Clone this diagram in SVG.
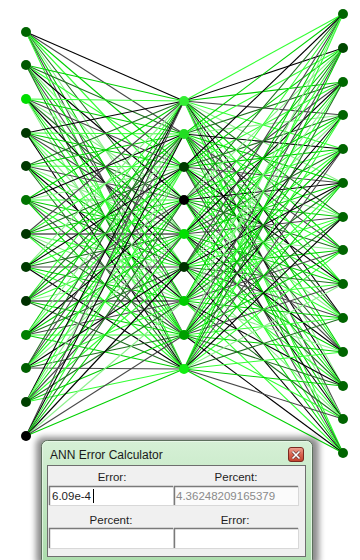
<svg xmlns="http://www.w3.org/2000/svg" width="360" height="560" viewBox="0 0 360 560">
<defs>
<style>
.k{stroke:#000000}.g{stroke:#484848}.d{stroke:#1f6f1f}.m{stroke:#00d000}.l{stroke:#33ff33}.p{stroke:#8cf08c}
#conn path{fill:none;stroke-width:1.1}
.lbl{font-family:"Liberation Sans",Arial,sans-serif;font-size:11.5px;fill:#1e1e1e}
</style>
<linearGradient id="frame" x1="0" y1="0" x2="0" y2="1"><stop offset="0" stop-color="#d6f0d6"/><stop offset="1" stop-color="#abdcab"/></linearGradient>
<linearGradient id="close" x1="0" y1="0" x2="0" y2="1"><stop offset="0" stop-color="#eea393"/><stop offset="0.5" stop-color="#d9634f"/><stop offset="1" stop-color="#c0402c"/></linearGradient>
<filter id="sh" x="-10%" y="-20%" width="120%" height="140%"><feGaussianBlur stdDeviation="3"/></filter>
</defs>
<rect width="360" height="560" fill="#ffffff"/>
<g id="conn">
<path class="k" d="M26 32 184 101"/><path class="g" d="M26 32 184 134"/><path class="m" d="M26 32 184 167"/><path class="l" d="M26 32 184 200"/><path class="d" d="M26 32 184 234"/><path class="p" d="M26 32 184 267"/><path class="m" d="M26 32 184 301"/><path class="g" d="M26 32 184 335"/><path class="l" d="M26 32 184 369"/>
<path class="m" d="M26 65 184 101"/><path class="d" d="M26 65 184 134"/><path class="l" d="M26 65 184 167"/><path class="k" d="M26 65 184 200"/><path class="p" d="M26 65 184 234"/><path class="m" d="M26 65 184 267"/><path class="g" d="M26 65 184 301"/><path class="l" d="M26 65 184 335"/><path class="d" d="M26 65 184 369"/>
<path class="l" d="M26 99 184 101"/><path class="m" d="M26 99 184 134"/><path class="g" d="M26 99 184 167"/><path class="p" d="M26 99 184 200"/><path class="d" d="M26 99 184 234"/><path class="k" d="M26 99 184 267"/><path class="l" d="M26 99 184 301"/><path class="m" d="M26 99 184 335"/><path class="p" d="M26 99 184 369"/>
<path class="k" d="M26 133 184 101"/><path class="l" d="M26 133 184 134"/><path class="m" d="M26 133 184 167"/><path class="d" d="M26 133 184 200"/><path class="g" d="M26 133 184 234"/><path class="l" d="M26 133 184 267"/><path class="p" d="M26 133 184 301"/><path class="m" d="M26 133 184 335"/><path class="k" d="M26 133 184 369"/>
<path class="d" d="M26 166 184 101"/><path class="m" d="M26 166 184 134"/><path class="l" d="M26 166 184 167"/><path class="g" d="M26 166 184 200"/><path class="p" d="M26 166 184 234"/><path class="m" d="M26 166 184 267"/><path class="k" d="M26 166 184 301"/><path class="l" d="M26 166 184 335"/><path class="d" d="M26 166 184 369"/>
<path class="m" d="M26 200 184 101"/><path class="k" d="M26 200 184 134"/><path class="p" d="M26 200 184 167"/><path class="l" d="M26 200 184 200"/><path class="m" d="M26 200 184 234"/><path class="d" d="M26 200 184 267"/><path class="l" d="M26 200 184 301"/><path class="g" d="M26 200 184 335"/><path class="m" d="M26 200 184 369"/>
<path class="g" d="M26 234 184 101"/><path class="l" d="M26 234 184 134"/><path class="d" d="M26 234 184 167"/><path class="m" d="M26 234 184 200"/><path class="k" d="M26 234 184 234"/><path class="l" d="M26 234 184 267"/><path class="p" d="M26 234 184 301"/><path class="d" d="M26 234 184 335"/><path class="l" d="M26 234 184 369"/>
<path class="p" d="M26 267 184 101"/><path class="m" d="M26 267 184 134"/><path class="k" d="M26 267 184 167"/><path class="l" d="M26 267 184 200"/><path class="d" d="M26 267 184 234"/><path class="g" d="M26 267 184 267"/><path class="m" d="M26 267 184 301"/><path class="l" d="M26 267 184 335"/><path class="k" d="M26 267 184 369"/>
<path class="l" d="M26 301 184 101"/><path class="d" d="M26 301 184 134"/><path class="m" d="M26 301 184 167"/><path class="g" d="M26 301 184 200"/><path class="l" d="M26 301 184 234"/><path class="p" d="M26 301 184 267"/><path class="k" d="M26 301 184 301"/><path class="m" d="M26 301 184 335"/><path class="d" d="M26 301 184 369"/>
<path class="m" d="M26 335 184 101"/><path class="p" d="M26 335 184 134"/><path class="l" d="M26 335 184 167"/><path class="k" d="M26 335 184 200"/><path class="m" d="M26 335 184 234"/><path class="d" d="M26 335 184 267"/><path class="g" d="M26 335 184 301"/><path class="l" d="M26 335 184 335"/><path class="m" d="M26 335 184 369"/>
<path class="d" d="M26 368 184 101"/><path class="g" d="M26 368 184 134"/><path class="m" d="M26 368 184 167"/><path class="l" d="M26 368 184 200"/><path class="p" d="M26 368 184 234"/><path class="k" d="M26 368 184 267"/><path class="l" d="M26 368 184 301"/><path class="d" d="M26 368 184 335"/><path class="g" d="M26 368 184 369"/>
<path class="k" d="M26 402 184 101"/><path class="l" d="M26 402 184 134"/><path class="p" d="M26 402 184 167"/><path class="m" d="M26 402 184 200"/><path class="g" d="M26 402 184 234"/><path class="l" d="M26 402 184 267"/><path class="d" d="M26 402 184 301"/><path class="m" d="M26 402 184 335"/><path class="l" d="M26 402 184 369"/>
<path class="g" d="M26 436 184 101"/><path class="k" d="M26 436 184 134"/><path class="l" d="M26 436 184 167"/><path class="d" d="M26 436 184 200"/><path class="m" d="M26 436 184 234"/><path class="k" d="M26 436 184 267"/><path class="p" d="M26 436 184 301"/><path class="g" d="M26 436 184 335"/><path class="m" d="M26 436 184 369"/>
<path class="l" d="M184 101 343 14"/><path class="k" d="M184 101 343 48"/><path class="m" d="M184 101 343 82"/><path class="g" d="M184 101 343 115"/><path class="l" d="M184 101 343 149"/><path class="p" d="M184 101 343 183"/><path class="d" d="M184 101 343 217"/><path class="m" d="M184 101 343 250"/><path class="l" d="M184 101 343 284"/><path class="k" d="M184 101 343 318"/><path class="m" d="M184 101 343 352"/><path class="p" d="M184 101 343 386"/><path class="g" d="M184 101 343 419"/><path class="l" d="M184 101 343 453"/>
<path class="m" d="M184 134 343 14"/><path class="l" d="M184 134 343 48"/><path class="d" d="M184 134 343 82"/><path class="p" d="M184 134 343 115"/><path class="k" d="M184 134 343 149"/><path class="m" d="M184 134 343 183"/><path class="l" d="M184 134 343 217"/><path class="g" d="M184 134 343 250"/><path class="m" d="M184 134 343 284"/><path class="d" d="M184 134 343 318"/><path class="l" d="M184 134 343 352"/><path class="k" d="M184 134 343 386"/><path class="p" d="M184 134 343 419"/><path class="m" d="M184 134 343 453"/>
<path class="k" d="M184 167 343 14"/><path class="m" d="M184 167 343 48"/><path class="l" d="M184 167 343 82"/><path class="d" d="M184 167 343 115"/><path class="m" d="M184 167 343 149"/><path class="g" d="M184 167 343 183"/><path class="p" d="M184 167 343 217"/><path class="l" d="M184 167 343 250"/><path class="k" d="M184 167 343 284"/><path class="m" d="M184 167 343 318"/><path class="d" d="M184 167 343 352"/><path class="l" d="M184 167 343 386"/><path class="m" d="M184 167 343 419"/><path class="g" d="M184 167 343 453"/>
<path class="d" d="M184 200 343 14"/><path class="p" d="M184 200 343 48"/><path class="g" d="M184 200 343 82"/><path class="m" d="M184 200 343 115"/><path class="l" d="M184 200 343 149"/><path class="k" d="M184 200 343 183"/><path class="m" d="M184 200 343 217"/><path class="d" d="M184 200 343 250"/><path class="l" d="M184 200 343 284"/><path class="p" d="M184 200 343 318"/><path class="g" d="M184 200 343 352"/><path class="m" d="M184 200 343 386"/><path class="k" d="M184 200 343 419"/><path class="l" d="M184 200 343 453"/>
<path class="l" d="M184 234 343 14"/><path class="m" d="M184 234 343 48"/><path class="k" d="M184 234 343 82"/><path class="l" d="M184 234 343 115"/><path class="d" d="M184 234 343 149"/><path class="m" d="M184 234 343 183"/><path class="g" d="M184 234 343 217"/><path class="p" d="M184 234 343 250"/><path class="m" d="M184 234 343 284"/><path class="l" d="M184 234 343 318"/><path class="k" d="M184 234 343 352"/><path class="d" d="M184 234 343 386"/><path class="l" d="M184 234 343 419"/><path class="m" d="M184 234 343 453"/>
<path class="g" d="M184 267 343 14"/><path class="d" d="M184 267 343 48"/><path class="m" d="M184 267 343 82"/><path class="p" d="M184 267 343 115"/><path class="l" d="M184 267 343 149"/><path class="k" d="M184 267 343 183"/><path class="l" d="M184 267 343 217"/><path class="m" d="M184 267 343 250"/><path class="d" d="M184 267 343 284"/><path class="g" d="M184 267 343 318"/><path class="m" d="M184 267 343 352"/><path class="l" d="M184 267 343 386"/><path class="p" d="M184 267 343 419"/><path class="k" d="M184 267 343 453"/>
<path class="m" d="M184 301 343 14"/><path class="l" d="M184 301 343 48"/><path class="p" d="M184 301 343 82"/><path class="k" d="M184 301 343 115"/><path class="m" d="M184 301 343 149"/><path class="d" d="M184 301 343 183"/><path class="l" d="M184 301 343 217"/><path class="g" d="M184 301 343 250"/><path class="l" d="M184 301 343 284"/><path class="m" d="M184 301 343 318"/><path class="p" d="M184 301 343 352"/><path class="k" d="M184 301 343 386"/><path class="d" d="M184 301 343 419"/><path class="l" d="M184 301 343 453"/>
<path class="p" d="M184 335 343 14"/><path class="g" d="M184 335 343 48"/><path class="l" d="M184 335 343 82"/><path class="m" d="M184 335 343 115"/><path class="k" d="M184 335 343 149"/><path class="l" d="M184 335 343 183"/><path class="d" d="M184 335 343 217"/><path class="m" d="M184 335 343 250"/><path class="g" d="M184 335 343 284"/><path class="l" d="M184 335 343 318"/><path class="m" d="M184 335 343 352"/><path class="d" d="M184 335 343 386"/><path class="l" d="M184 335 343 419"/><path class="k" d="M184 335 343 453"/>
<path class="l" d="M184 369 343 14"/><path class="m" d="M184 369 343 48"/><path class="d" d="M184 369 343 82"/><path class="l" d="M184 369 343 115"/><path class="g" d="M184 369 343 149"/><path class="m" d="M184 369 343 183"/><path class="k" d="M184 369 343 217"/><path class="l" d="M184 369 343 250"/><path class="p" d="M184 369 343 284"/><path class="d" d="M184 369 343 318"/><path class="l" d="M184 369 343 352"/><path class="m" d="M184 369 343 386"/><path class="g" d="M184 369 343 419"/><path class="m" d="M184 369 343 453"/>
</g>
<g id="in1"><circle cx="26" cy="32" r="5" fill="#006400"/></g>
<g id="in2"><circle cx="26" cy="65" r="5" fill="#005800"/></g>
<g id="in3"><circle cx="26" cy="99" r="5" fill="#00dd00"/></g>
<g id="in4"><circle cx="26" cy="133" r="5" fill="#003800"/></g>
<g id="in5"><circle cx="26" cy="166" r="5" fill="#003800"/></g>
<g id="in6"><circle cx="26" cy="200" r="5" fill="#007400"/></g>
<g id="in7"><circle cx="26" cy="234" r="5" fill="#003600"/></g>
<g id="in8"><circle cx="26" cy="267" r="5" fill="#003a00"/></g>
<g id="in9"><circle cx="26" cy="301" r="5" fill="#003000"/></g>
<g id="in10"><circle cx="26" cy="335" r="5" fill="#008000"/></g>
<g id="in11"><circle cx="26" cy="368" r="5" fill="#006000"/></g>
<g id="in12"><circle cx="26" cy="402" r="5" fill="#004000"/></g>
<g id="in13"><circle cx="26" cy="436" r="5" fill="#000000"/></g>
<g id="h1"><circle cx="184" cy="101" r="5" fill="#33ee33"/></g>
<g id="h2"><circle cx="184" cy="134" r="5" fill="#22dd22"/></g>
<g id="h3"><circle cx="184" cy="167" r="5" fill="#003a00"/></g>
<g id="h4"><circle cx="184" cy="200" r="5" fill="#000000"/></g>
<g id="h5"><circle cx="184" cy="234" r="5" fill="#00e000"/></g>
<g id="h6"><circle cx="184" cy="267" r="5" fill="#003300"/></g>
<g id="h7"><circle cx="184" cy="301" r="5" fill="#00cc00"/></g>
<g id="h8"><circle cx="184" cy="335" r="5" fill="#00a000"/></g>
<g id="h9"><circle cx="184" cy="369" r="5" fill="#11ee11"/></g>
<g id="out1"><circle cx="343" cy="14" r="5" fill="#006400"/></g>
<g id="out2"><circle cx="343" cy="48" r="5" fill="#004800"/></g>
<g id="out3"><circle cx="343" cy="82" r="5" fill="#006800"/></g>
<g id="out4"><circle cx="343" cy="115" r="5" fill="#006400"/></g>
<g id="out5"><circle cx="343" cy="149" r="5" fill="#006400"/></g>
<g id="out6"><circle cx="343" cy="183" r="5" fill="#006400"/></g>
<g id="out7"><circle cx="343" cy="217" r="5" fill="#006400"/></g>
<g id="out8"><circle cx="343" cy="250" r="5" fill="#006400"/></g>
<g id="out9"><circle cx="343" cy="284" r="5" fill="#006400"/></g>
<g id="out10"><circle cx="343" cy="318" r="5" fill="#006400"/></g>
<g id="out11"><circle cx="343" cy="352" r="5" fill="#006400"/></g>
<g id="out12"><circle cx="343" cy="386" r="5" fill="#006400"/></g>
<g id="out13"><circle cx="343" cy="419" r="5" fill="#006400"/></g>
<g id="out14"><circle cx="343" cy="453" r="5" fill="#006400"/></g>
<g id="dialog">
<rect x="36" y="437" width="283" height="130" rx="7" fill="#000" opacity="0.45" filter="url(#sh)"/>
<rect x="41.5" y="440.5" width="271" height="125" rx="6" fill="url(#frame)" stroke="#5d6f5d"/>
<rect x="42.5" y="441.5" width="269" height="123" rx="5" fill="none" stroke="#eaf8ea" stroke-opacity="0.8"/>
<text x="50" y="459" font-family="Liberation Sans, Arial, sans-serif" font-size="12" fill="#1a1a1a">ANN Error Calculator</text>
<g id="closebtn">
<rect x="288.5" y="447.5" width="15" height="14" rx="2.5" fill="url(#close)" stroke="#7a2a20"/>
<path d="M292.5 451.5 299.5 458.5M299.5 451.5 292.5 458.5" stroke="#6a3a35" stroke-width="3"/>
<path d="M292.5 451.5 299.5 458.5M299.5 451.5 292.5 458.5" stroke="#ffffff" stroke-width="1.6"/>
</g>
<rect x="47.5" y="465.5" width="258" height="91" fill="#f0f0f0" stroke="#6e6e6e"/>
<text class="lbl" x="112" y="481" text-anchor="middle">Error:</text>
<text class="lbl" x="236" y="481" text-anchor="middle">Percent:</text>
<rect x="49.5" y="486.5" width="124" height="19" fill="#ffffff" stroke="#d8d8d8"/>
<path d="M49.5 505 V486.5 H173" fill="none" stroke="#7a7a7a" stroke-width="1.4"/>
<rect x="174.5" y="486.5" width="124" height="19" fill="#fbfbfb" stroke="#d8d8d8"/>
<path d="M174.5 505 V486.5 H298" fill="none" stroke="#7a7a7a" stroke-width="1.4"/>
<text class="lbl" x="52" y="500" fill="#000">6.09e-4</text>
<path d="M93.5 489 V503" stroke="#000" stroke-width="1"/>
<text class="lbl" x="176" y="500" style="fill:#8a8a8a">4.36248209165379</text>
<text class="lbl" x="111" y="524" text-anchor="middle">Percent:</text>
<text class="lbl" x="235" y="524" text-anchor="middle">Error:</text>
<rect x="49.5" y="528.5" width="124" height="20" fill="#ffffff" stroke="#d8d8d8"/>
<path d="M49.5 548 V528.5 H173" fill="none" stroke="#7a7a7a" stroke-width="1.4"/>
<rect x="174.5" y="528.5" width="124" height="20" fill="#ffffff" stroke="#d8d8d8"/>
<path d="M174.5 548 V528.5 H298" fill="none" stroke="#7a7a7a" stroke-width="1.4"/>
</g>
</svg>
